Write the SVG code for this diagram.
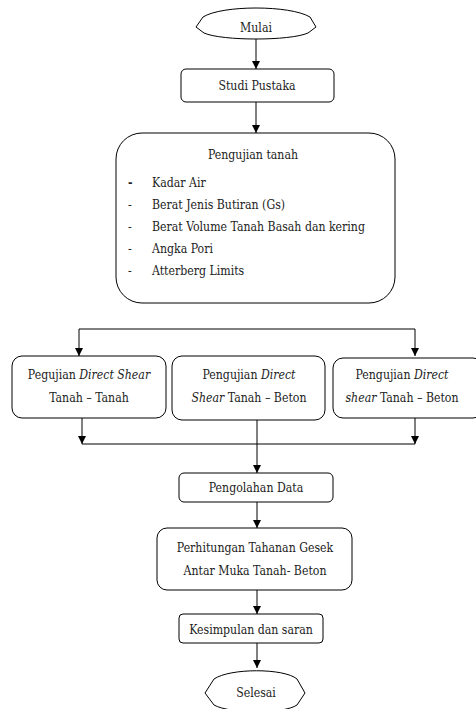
<svg xmlns="http://www.w3.org/2000/svg" width="476" height="709" viewBox="0 0 476 709">
<style>
.box{fill:#fff;stroke:#000;stroke-width:1}
.t{font-family:'DejaVu Serif Condensed','DejaVu Serif','Liberation Serif',serif;font-stretch:condensed;font-size:12.2px;fill:#222}
.c{text-anchor:middle}
.i{font-style:italic}
.ln{fill:none;stroke:#000;stroke-width:1}
</style>
<defs>
<marker id="ah" viewBox="0 0 8 8" refX="8" refY="4" markerWidth="8" markerHeight="8" markerUnits="userSpaceOnUse" orient="auto">
<path d="M0,0 L8,4 L0,8 Z" fill="#000"/>
</marker>
</defs>
<rect width="476" height="709" fill="#fff"/>
<g id="connectors">
<line class="ln" x1="256" y1="38" x2="256" y2="69" marker-end="url(#ah)"/>
<line class="ln" x1="256" y1="102" x2="256" y2="133" marker-end="url(#ah)"/>
<polyline class="ln" points="79,329 415,329 415,356" marker-end="url(#ah)"/>
<line class="ln" x1="79" y1="329" x2="79" y2="356" marker-end="url(#ah)"/>
<line class="ln" x1="82" y1="418" x2="82" y2="444" marker-end="url(#ah)"/>
<line class="ln" x1="415" y1="418" x2="415" y2="444" marker-end="url(#ah)"/>
<line class="ln" x1="82" y1="444" x2="415" y2="444"/>
<line class="ln" x1="257" y1="420" x2="257" y2="473" marker-end="url(#ah)"/>
<line class="ln" x1="257" y1="502" x2="257" y2="528" marker-end="url(#ah)"/>
<line class="ln" x1="257" y1="590" x2="257" y2="614" marker-end="url(#ah)"/>
<line class="ln" x1="257" y1="643" x2="257" y2="668" marker-end="url(#ah)"/>
</g>
<g id="mulai">
<path class="box" d="M196,27 L203,17 C222,5 290,5 310,17 L316,27 L308,33 C290,41 222,41 204,33 Z"/>
<text class="t c" x="256" y="32">Mulai</text>
</g>
<g id="studi">
<rect class="box" x="181" y="69" width="153" height="33" rx="5"/>
<text class="t c" x="257" y="90">Studi Pustaka</text>
</g>
<g id="pengujian-tanah">
<rect class="box" x="116" y="133" width="279" height="170" rx="26"/>
<text class="t c" x="253" y="159">Pengujian tanah</text>
<text class="t" x="128" y="187" style="font-weight:bold">-</text>
<text class="t" x="152" y="187">Kadar Air</text>
<text class="t" x="128" y="209">-</text>
<text class="t" x="152" y="209">Berat Jenis Butiran (Gs)</text>
<text class="t" x="128" y="231">-</text>
<text class="t" x="152" y="231">Berat Volume Tanah Basah dan kering</text>
<text class="t" x="128" y="253">-</text>
<text class="t" x="152" y="253">Angka Pori</text>
<text class="t" x="128" y="275">-</text>
<text class="t" x="152" y="275">Atterberg Limits</text>
</g>
<g id="ds-tanah-tanah">
<rect class="box" x="12" y="356" width="154" height="62" rx="10"/>
<text class="t c" x="89" y="379">Pegujian <tspan class="i">Direct Shear</tspan></text>
<text class="t c" x="89" y="402">Tanah – Tanah</text>
</g>
<g id="ds-tanah-beton-1">
<rect class="box" x="172" y="356" width="153" height="64" rx="10"/>
<text class="t c" x="249" y="379">Pengujian <tspan class="i">Direct</tspan></text>
<text class="t c" x="249" y="402"><tspan class="i">Shear</tspan> Tanah – Beton</text>
</g>
<g id="ds-tanah-beton-2">
<rect class="box" x="333" y="358" width="150" height="60" rx="10"/>
<text class="t c" x="402" y="379">Pengujian <tspan class="i">Direct</tspan></text>
<text class="t c" x="402" y="402"><tspan class="i">shear</tspan> Tanah – Beton</text>
</g>
<g id="pengolahan">
<rect class="box" x="179" y="473" width="154" height="29" rx="5"/>
<text class="t c" x="256" y="492">Pengolahan Data</text>
</g>
<g id="perhitungan">
<rect class="box" x="157" y="528" width="195" height="62" rx="10"/>
<text class="t c" x="255" y="552">Perhitungan Tahanan Gesek</text>
<text class="t c" x="255" y="575">Antar Muka Tanah- Beton</text>
</g>
<g id="kesimpulan">
<rect class="box" x="179" y="614" width="144" height="29" rx="4"/>
<text class="t c" x="251" y="634">Kesimpulan dan saran</text>
</g>
<g id="selesai">
<path class="box" d="M205,693 L214,679 C230,668 284,668 297,679 L305,693 L297,705 C284,714 230,714 214,705 Z"/>
<text class="t c" x="256" y="697">Selesai</text>
</g>
</svg>
